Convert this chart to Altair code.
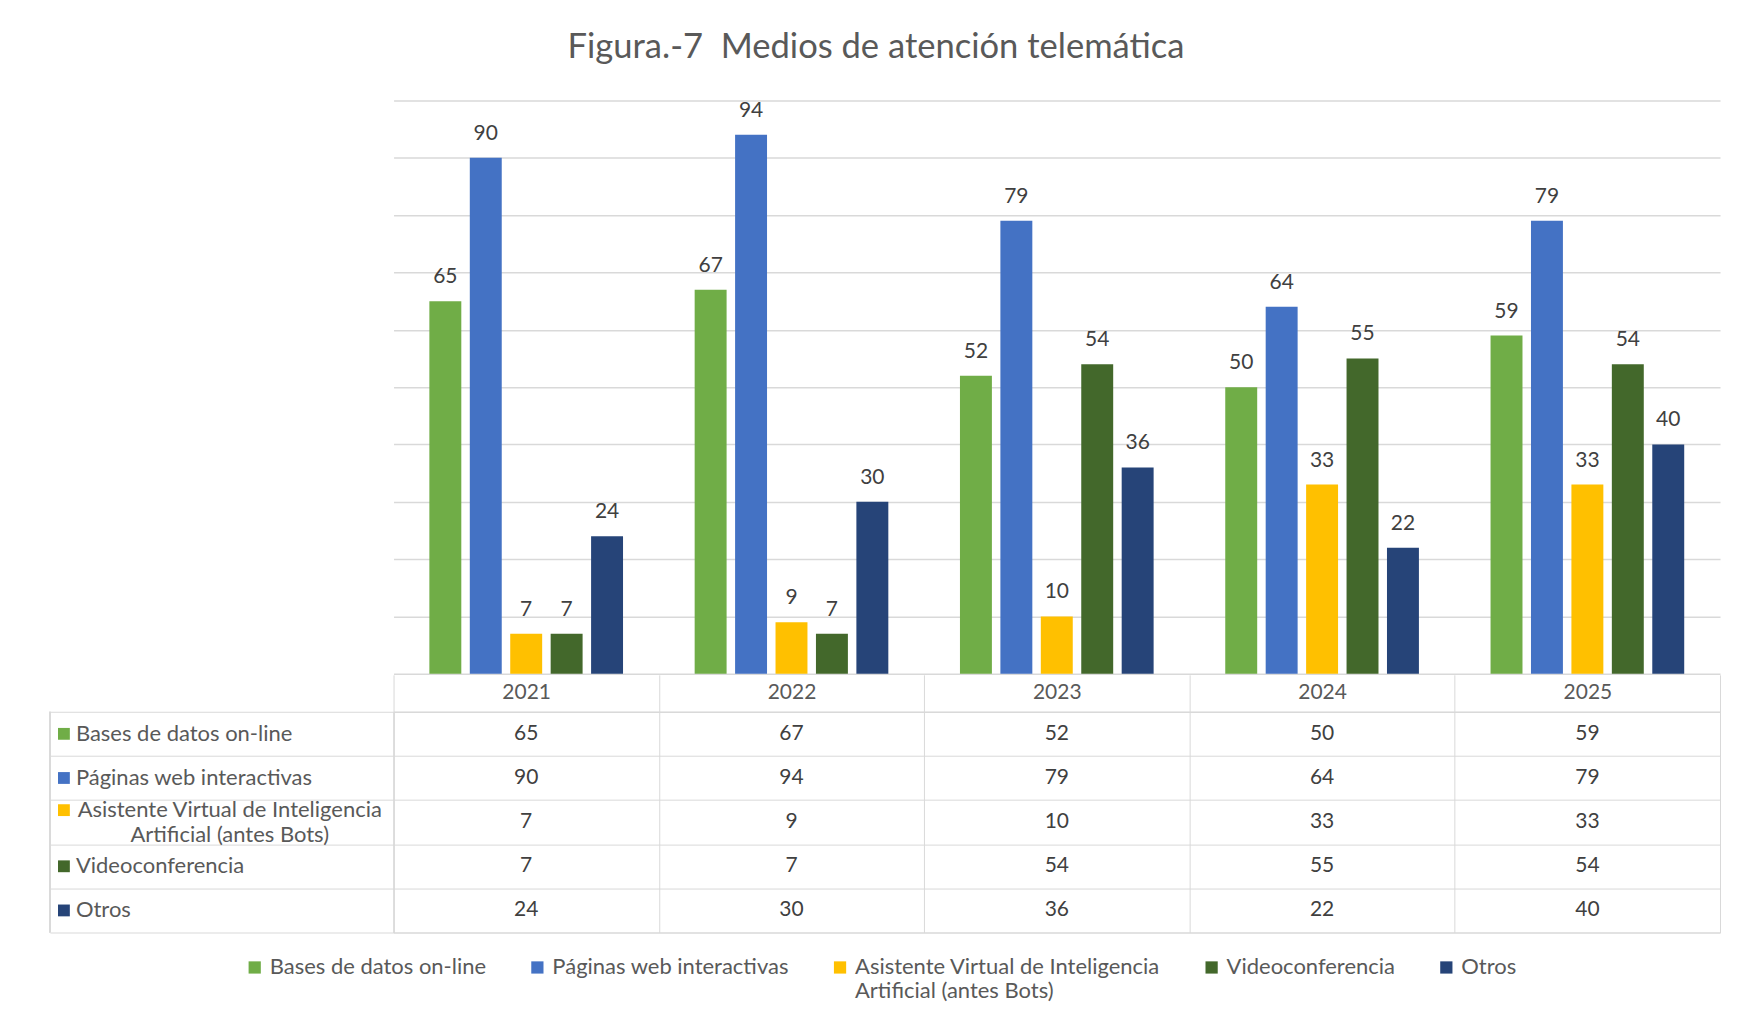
import altair as alt
import pandas as pd

years = ["2021", "2022", "2023", "2024", "2025"]
series = [
    "Bases de datos on-line",
    "Páginas web interactivas",
    "Asistente Virtual de Inteligencia Artificial (antes Bots)",
    "Videoconferencia",
    "Otros",
]
colors = ["#70ad47", "#4472c4", "#ffc000", "#43682b", "#264478"]
bases = [65, 67, 52, 50, 59]
paginas = [90, 94, 79, 64, 79]
asistente = [7, 9, 10, 33, 33]
video = [7, 7, 54, 55, 54]
otros = [24, 30, 36, 22, 40]

values = [bases, paginas, asistente, video, otros]
rows = []
for s, vals in zip(series, values):
    for y, v in zip(years, vals):
        rows.append({"year": y, "series": s, "value": v})
df = pd.DataFrame(rows)
labels_df = pd.DataFrame({"series": series})

FONT = "Lato"
GRID = "#d9d9d9"
TXT = "#595959"
MULTI = "Asistente Virtual de Inteligencia Artificial (antes Bots)"

color = alt.Color(
    "series:N",
    scale=alt.Scale(domain=series, range=colors),
    legend=alt.Legend(
        orient="none", legendX=-150, legendY=857, direction="horizontal", columns=5,
        title=None, symbolType="square", symbolSize=150, symbolStrokeWidth=0,
        labelFont=FONT, labelFontSize=22, labelColor=TXT, labelLimit=0,
        columnPadding=40, labelOffset=4, labelBaseline="middle",
        labelExpr="datum.label == '" + MULTI + "' ? ['Asistente Virtual de Inteligencia', 'Artificial (antes Bots)'] : [datum.label, ' ']",
    ),
)

base = alt.Chart(df).encode(
    x=alt.X("year:N", scale=alt.Scale(domain=years, paddingInner=0.27, paddingOuter=0.135), axis=None),
    xOffset=alt.XOffset("series:N", scale=alt.Scale(domain=series, paddingInner=0.21)),
    y=alt.Y("value:Q", scale=alt.Scale(domain=[0, 100]),
            axis=alt.Axis(title=None, labels=False, ticks=False, domain=False, grid=True,
                          gridColor=GRID, gridWidth=1.5, values=list(range(0, 101, 10)))),
)
bars = base.mark_bar().encode(color=color)
bar_labels = base.mark_text(baseline="bottom", dy=-14, font=FONT, fontSize=21, color="#404040").encode(text="value:Q")
bar_chart = (bars + bar_labels).properties(width=1328, height=574)

tbase = alt.Chart(df).encode(
    x=alt.X("year:N", scale=alt.Scale(domain=years, paddingInner=0, paddingOuter=0),
            axis=alt.Axis(orient="top", title=None, tickBand="extent", tickSize=37, tickColor=GRID,
                          domainColor=GRID, labelPadding=-18, labelBaseline="middle", labelFont=FONT,
                          labelFontSize=21, labelColor=TXT, grid=True, gridColor=GRID, labelAngle=0)),
    y=alt.Y("series:N", scale=alt.Scale(domain=series, paddingInner=0, paddingOuter=0),
            axis=alt.Axis(title=None, labels=False, tickBand="extent", tickSize=344, tickColor=GRID,
                          domainColor=GRID, grid=True, gridColor=GRID)),
)
cells = tbase.mark_text(font=FONT, fontSize=21, color="#404040").encode(text="value:Q")

yrow = alt.Y("series:N", scale=alt.Scale(domain=series, paddingInner=0, paddingOuter=0))
sq_color = alt.Color("series:N", scale=alt.Scale(domain=series, range=colors), legend=None)

squares = alt.Chart(labels_df).transform_filter(
    "datum.series != '" + MULTI + "'"
).mark_square(filled=True, size=140, opacity=1).encode(x=alt.value(-330), y=yrow, color=sq_color)
squares_multi = alt.Chart(labels_df).transform_filter(
    "datum.series == '" + MULTI + "'"
).mark_square(filled=True, size=140, opacity=1, yOffset=-12).encode(x=alt.value(-330), y=yrow, color=sq_color)
single_labels = alt.Chart(labels_df).transform_filter(
    "datum.series != '" + MULTI + "'"
).mark_text(align="left", font=FONT, fontSize=22, color=TXT).encode(x=alt.value(-318), y=yrow, text="series:N")
multi_labels = alt.Chart(labels_df).transform_filter(
    "datum.series == '" + MULTI + "'"
).transform_calculate(
    lbl="['Asistente Virtual de Inteligencia', 'Artificial (antes Bots)']"
).mark_text(align="center", baseline="middle", font=FONT, fontSize=22, color=TXT, lineHeight=25, dy=-12).encode(
    x=alt.value(-164), y=yrow, text="lbl:N"
)
left_border = alt.Chart(labels_df).mark_rule(color=GRID).encode(
    x=alt.value(-344), y=alt.value(0), y2=alt.value(221)
)

table = alt.layer(cells, squares, squares_multi, single_labels, multi_labels, left_border).properties(
    width=1328, height=221, view=alt.ViewBackground(stroke=GRID)
)

chart = alt.vconcat(bar_chart, table, spacing=0).properties(
    title=alt.TitleParams("Figura.-7\u00a0 Medios de atención telemática", font=FONT, fontSize=34.6,
                          fontWeight="normal", color=TXT, anchor="middle", offset=34, dx=-9),
    padding={"left": 49, "top": 29, "right": 26, "bottom": 10},
    background="white",
).configure_view(stroke=None)

chart.save("out.html", embed_options={"renderer": "svg", "actions": False})
